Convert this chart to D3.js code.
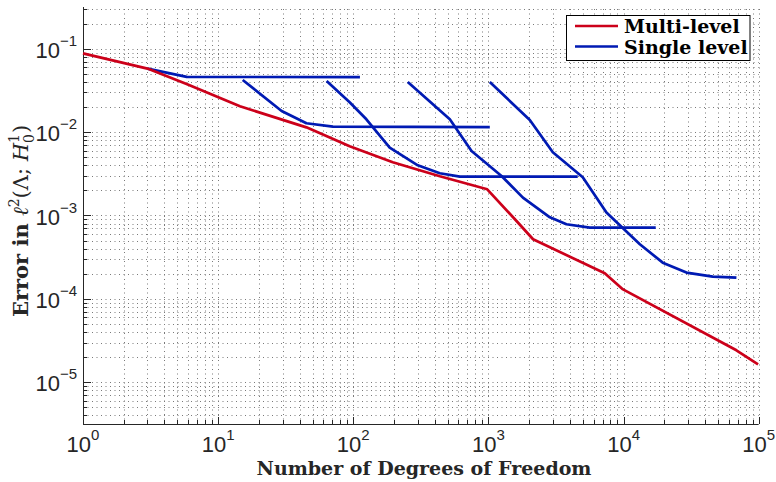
<!DOCTYPE html>
<html>
<head>
<meta charset="utf-8">
<script src="https://cdn.jsdelivr.net/npm/d3@7"></script>
<style>
  body { margin: 0; background: #fff; }
  svg { display: block; }
</style>
</head>
<body>
<svg id="chart" width="776" height="482"></svg>
<script>
'use strict';

// multi-level refinement
const dofMulti = [1, 3, 5.9, 14.5, 45, 94, 196, 437, 980, 1614, 2140, 7260, 9910, 68400, 98900];
const errMulti = [0.088, 0.0577, 0.0374, 0.0204, 0.0114, 0.00676, 0.00435, 0.00295, 0.00206,
                  0.000859, 0.000519, 0.000203, 0.000130, 2.42e-5, 1.64e-5];

// single level runs, one per starting mesh
const dofSingle = [
  [3, 5.85, 112],
  [15.2, 29.5, 45, 70.7, 1024],
  [63.5, 94, 125, 186, 300, 437, 615, 4580],
  [253, 518, 750, 1250, 1800, 2850, 3780, 5620, 17300],
  [1024, 2024, 2995, 4990, 7470, 13200, 19500, 29200, 45700, 68400]
];
const errSingle = [
  [0.0577, 0.046, 0.0455],
  [0.0422, 0.0179, 0.01276, 0.01165, 0.0115],
  [0.041, 0.0228, 0.01424, 0.00652, 0.0040, 0.00321, 0.00293, 0.00292],
  [0.0399, 0.01424, 0.00593, 0.00298, 0.00164, 0.000951, 0.000785, 0.000716, 0.000716],
  [0.0399, 0.01397, 0.00573, 0.00287, 0.001084, 0.000452, 0.000272, 0.000207, 0.000185, 0.00018]
];

const xMajor = [1, 10, 100, 1000, 10000, 100000];
const xLabels = ['0', '1', '2', '3', '4', '5'];
const yMajor = [1e-5, 1e-4, 1e-3, 1e-2, 1e-1];
const yLabels = ['\u22125', '\u22124', '\u22123', '\u22122', '\u22121'];
const legendNames = ['Multi-level', 'Single level'];

const red = '#cc001a';
const blue = '#001ab3';

const pLeft = 83, pRight = 758.7, pTop = 7, pBottom = 424;

const svg = d3.select('#chart');

const x = d3.scaleLog().domain([1, 1e5]).range([pLeft, pRight]);
const y = d3.scaleLog().domain([Math.pow(10, -5.5), Math.pow(10, -0.5)]).range([pBottom, pTop]);

// minor + major values in range
function logTicks(lo, hi) {
  const out = [];
  for (let e = Math.floor(Math.log10(lo)); e <= Math.ceil(Math.log10(hi)); e++) {
    for (let m = 1; m <= 9; m++) {
      const v = m * Math.pow(10, e);
      if (v >= lo * 0.9999 && v <= hi * 1.0001) out.push(v);
    }
  }
  return out;
}
const xAll = logTicks(1, 1e5);
const yAll = logTicks(Math.pow(10, -5.5), Math.pow(10, -0.5));
const isMajor = (list, d) => list.some(m => Math.abs(m - d) / m < 1e-6);

// grid
const grid = svg.append('g')
  .attr('stroke', '#7a7a7a')
  .attr('stroke-width', 1)
  .attr('stroke-dasharray', '1,3.5');
grid.selectAll('.gx').data(xAll.filter(d => d > 1)).enter().append('line')
  .attr('x1', d => Math.round(x(d)) + 0.5).attr('x2', d => Math.round(x(d)) + 0.5)
  .attr('y1', pBottom).attr('y2', pTop);
grid.selectAll('.gy').data(yAll).enter().append('line')
  .attr('y1', d => Math.round(y(d)) + 0.5).attr('y2', d => Math.round(y(d)) + 0.5)
  .attr('x1', pLeft).attr('x2', pRight);

// axes with inward ticks
const ax = svg.append('g').attr('stroke', '#262626').attr('stroke-width', 1);
ax.append('line').attr('x1', pLeft).attr('x2', pRight).attr('y1', pBottom + 0.5).attr('y2', pBottom + 0.5);
ax.append('line').attr('x1', pLeft + 0.5).attr('x2', pLeft + 0.5).attr('y1', pTop).attr('y2', pBottom);
ax.selectAll('.tx').data(xAll).enter().append('line')
  .attr('x1', d => Math.round(x(d)) + 0.5).attr('x2', d => Math.round(x(d)) + 0.5)
  .attr('y1', pBottom)
  .attr('y2', d => pBottom - (isMajor(xMajor, d) ? 7 : 4));
ax.selectAll('.ty').data(yAll).enter().append('line')
  .attr('y1', d => Math.round(y(d)) + 0.5).attr('y2', d => Math.round(y(d)) + 0.5)
  .attr('x1', pLeft)
  .attr('x2', d => pLeft + (isMajor(yMajor, d) ? 8 : 4));

// tick labels
const lab = svg.append('g')
  .attr('font-family', 'Liberation Sans, Arial, sans-serif')
  .attr('fill', '#262626');
xMajor.forEach((v, i) => {
  const t = lab.append('text')
    .attr('x', x(v)).attr('y', 452)
    .attr('text-anchor', 'middle')
    .attr('font-size', 22);
  t.append('tspan').text('10');
  t.append('tspan').attr('dy', -12).attr('font-size', 15).text(xLabels[i]);
});
yMajor.forEach((v, i) => {
  const t = lab.append('text')
    .attr('x', 77).attr('y', y(v) + 9)
    .attr('text-anchor', 'end')
    .attr('font-size', 22);
  t.append('tspan').text('10');
  t.append('tspan').attr('dy', -12).attr('font-size', 15).text(yLabels[i]);
});

// curves
const line = d3.line()
  .x(d => x(d[0]))
  .y(d => y(d[1]));

dofSingle.forEach((dof, k) => {
  svg.append('path')
    .datum(dof.map((d, i) => [d, errSingle[k][i]]))
    .attr('d', line)
    .attr('fill', 'none')
    .attr('stroke', blue)
    .attr('stroke-width', 2.7)
    .attr('stroke-linejoin', 'round');
});

svg.append('path')
  .datum(dofMulti.map((d, i) => [d, errMulti[i]]))
  .attr('d', line)
  .attr('fill', 'none')
  .attr('stroke', red)
  .attr('stroke-width', 2.7)
  .attr('stroke-linejoin', 'round');

// axis titles
const serif = 'DejaVu Serif, Liberation Serif, serif';
svg.append('text')
  .attr('x', 424).attr('y', 475)
  .attr('text-anchor', 'middle')
  .attr('font-family', serif)
  .attr('font-weight', 'bold')
  .attr('font-size', 19)
  .attr('fill', '#262626')
  .text('Number of Degrees of Freedom');

const yt = svg.append('text')
  .attr('transform', 'translate(28,221) rotate(-90)')
  .attr('text-anchor', 'middle')
  .attr('font-family', serif)
  .attr('font-size', 21)
  .attr('fill', '#262626');
yt.append('tspan').attr('font-weight', 'bold').text('Error in ');
yt.append('tspan').attr('font-style', 'italic').text('\u2113');
yt.append('tspan').attr('dy', -9).attr('font-size', 14).text('2');
yt.append('tspan').attr('dy', 9).text('(\u039B; ');
yt.append('tspan').attr('font-style', 'italic').text('H');
yt.append('tspan').attr('dy', -9).attr('font-size', 14).text('1');
yt.append('tspan').attr('dx', -9).attr('dy', 15).attr('font-size', 14).text('0');
yt.append('tspan').attr('dx', 1).attr('dy', -6).text(')');

// legend
const lg = svg.append('g');
lg.append('rect')
  .attr('x', 566.5).attr('y', 15.5).attr('width', 183.5).attr('height', 45)
  .attr('fill', '#fff').attr('stroke', '#000').attr('stroke-width', 1);
[red, blue].forEach((c, i) => {
  const ly = 26 + i * 20.5;
  lg.append('line')
    .attr('x1', 575).attr('x2', 618).attr('y1', ly).attr('y2', ly)
    .attr('stroke', c).attr('stroke-width', 2.7);
  lg.append('text')
    .attr('x', 624).attr('y', ly + 7)
    .attr('font-family', serif)
    .attr('font-weight', 'bold')
    .attr('font-size', 19)
    .attr('fill', '#000')
    .text(legendNames[i]);
});
</script>
</body>
</html>
